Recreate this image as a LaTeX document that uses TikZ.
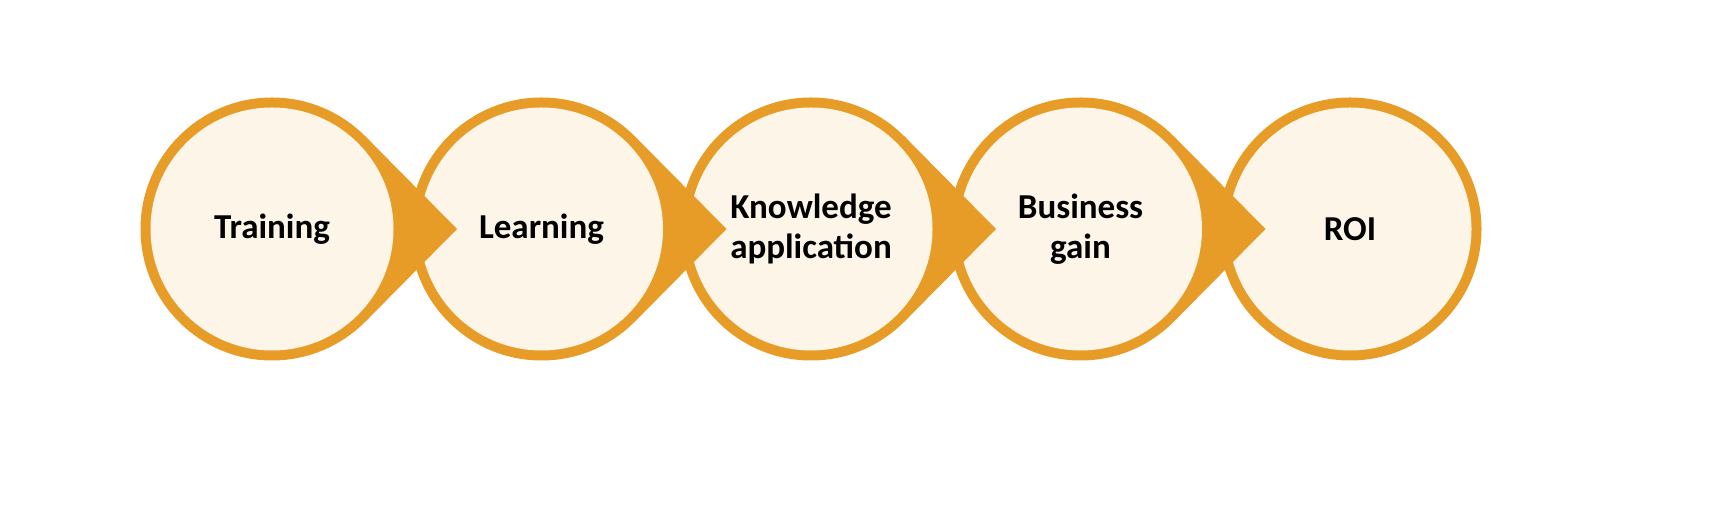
\documentclass[tikz,border=0pt]{standalone}
\usepackage{fontspec}
\setmainfont{Carlito}
\definecolor{ring}{HTML}{E69C26}
\definecolor{cream}{HTML}{FCF5E8}
\begin{document}
\begin{tikzpicture}[x=0.5pt,y=0.5pt,
  disk/.style={circle,inner sep=0pt,minimum size=131.5pt,fill=ring},
  inner/.style={circle,inner sep=0pt,minimum size=121.5pt,fill=cream,align=center,
    font=\fontsize{17.5}{20}\selectfont\bfseries}]
\useasboundingbox (0,0) rectangle (1735,507);
\foreach \i/\t in {5/ROI,4/{Business\\gain},3/{Knowledge\\application},2/Learning,1/Training}{
  \pgfmathsetmacro{\cx}{272+269.5*(\i-1)}
  \ifnum\i<5
    \fill[ring] (\cx+93,278+93) -- (\cx+185,278) -- (\cx+93,278-93) -- cycle;
  \fi
  \node[disk] (d\i) at (\cx,278) {};
  \node[inner] (c\i) at (\cx,278) {\t};
}
\end{tikzpicture}
\end{document}
